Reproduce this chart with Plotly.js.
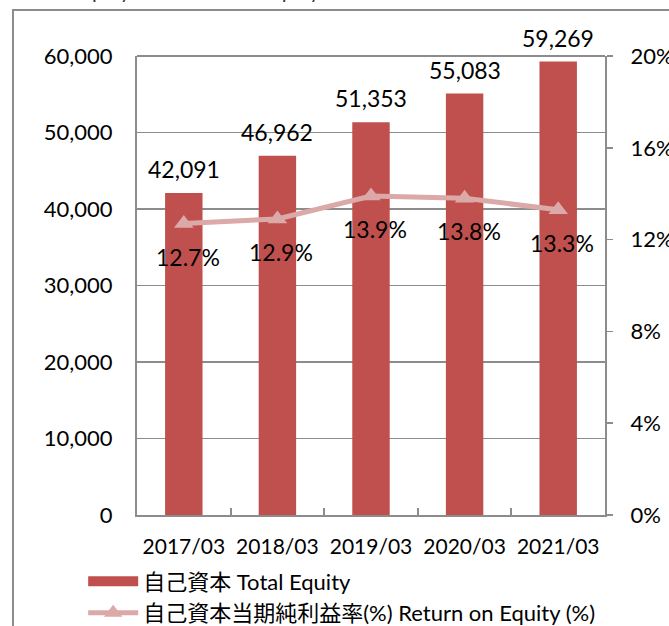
<!DOCTYPE html>
<html>
<head>
<meta charset="utf-8">
<script src="https://cdn.plot.ly/plotly-3.0.1.min.js"></script>
<style>html,body{margin:0;padding:0;background:#fff;}#chart{width:669px;height:626px;}</style>
</head>
<body>
<div id="chart"></div>
<script>
const categories = ["2017/03", "2018/03", "2019/03", "2020/03", "2021/03"];
const totalEquity = [42091, 46962, 51353, 55083, 59269];
const roe = [0.127, 0.129, 0.139, 0.138, 0.133];
const equityName = "自己資本 Total Equity";
const roeName = "自己資本当期純利益率(%) Return on Equity (%)";
const chartTitle = "Total Equity and Return on Equity";

const FONT = "Lato, 'Noto Sans CJK JP', sans-serif";
const GREY = "#8c8c8c";
const BAR = "#C0504D";
const LINE = "#DBA9A8";

const traces = [
  {
    type: "bar", x: categories, y: totalEquity, name: equityName,
    marker: {color: BAR}, yaxis: "y", hoverinfo: "skip", showlegend: false
  },
  {
    // legend swatch for the bars (wide block like the reference)
    type: "scatter", mode: "lines", x: [null], y: [null], name: equityName,
    line: {color: BAR, width: 15}, yaxis: "y", hoverinfo: "skip", showlegend: true
  },
  {
    type: "scatter", mode: "lines+markers", x: categories, y: roe, name: roeName,
    yaxis: "y2", line: {color: LINE, width: 5},
    marker: {symbol: "triangle-up", size: 17, color: LINE}, hoverinfo: "skip"
  }
];

const annotations = [];
categories.forEach((c, i) => {
  annotations.push({
    x: c, y: totalEquity[i], xref: "x", yref: "y", showarrow: false,
    text: totalEquity[i].toLocaleString("en-US"), yanchor: "bottom", yshift: 8,
    font: {family: FONT, size: 23, color: "#000"}
  });
  annotations.push({
    x: c, y: roe[i], xref: "x", yref: "y2", showarrow: false,
    text: (roe[i] * 100).toFixed(1) + "%", yanchor: "middle", yshift: -33, xshift: 4,
    font: {family: FONT, size: 23, color: "#000"}
  });
});
annotations.push({
  x: -0.24, y: 1.112, xref: "paper", yref: "paper", showarrow: false,
  text: chartTitle, xanchor: "left", yanchor: "bottom",
  font: {family: FONT, size: 20, color: "#333"}
});

const layout = {
  width: 669, height: 626,
  margin: {l: 137, r: 64, t: 56, b: 111, autoexpand: false},
  paper_bgcolor: "#fff", plot_bgcolor: "#fff",
  font: {family: FONT, size: 20, color: "#000"},
  bargap: 0.6,
  showlegend: true,
  legend: {
    x: -0.115, y: -0.099, xanchor: "left", yanchor: "top",
    orientation: "v", font: {family: FONT, size: 22, color: "#000"},
    itemwidth: 50, tracegroupgap: 0, bgcolor: "rgba(0,0,0,0)"
  },
  xaxis: {
    type: "category", showline: true, linecolor: GREY, linewidth: 2,
    ticks: "inside", tickson: "boundaries", ticklen: 7, tickcolor: GREY, tickwidth: 2,
    tickfont: {family: FONT, size: 21, color: "#000"}, ticklabelstandoff: 12,
    showgrid: false, fixedrange: true
  },
  yaxis: {
    range: [0, 60000], dtick: 10000, tickformat: ",d",
    showline: true, linecolor: GREY, linewidth: 2,
    showgrid: true, gridcolor: GREY, gridwidth: 1.5,
    ticks: "", tickfont: {family: FONT, size: 22, color: "#000"},
    ticklabelstandoff: 18, zeroline: false
  },
  yaxis2: {
    overlaying: "y", side: "right", range: [0, 0.2], dtick: 0.04, tickformat: ".0%",
    showline: true, linecolor: GREY, linewidth: 2, showgrid: false, zeroline: false,
    ticks: "outside", ticklen: 6, tickcolor: GREY, tickwidth: 1.5,
    tickfont: {family: FONT, size: 22, color: "#000"}, ticklabelstandoff: 13
  },
  shapes: [
    {type: "line", xref: "paper", yref: "paper", x0: 0, x1: 1, y0: 1, y1: 1,
     line: {color: GREY, width: 2}},
    {type: "rect", xref: "paper", yref: "paper", x0: -0.265, x1: 1.2, y0: 1.1, y1: -0.3,
     line: {color: GREY, width: 2}, layer: "below"}
  ],
  annotations: annotations
};

Plotly.newPlot("chart", traces, layout, {displayModeBar: false, staticPlot: true});
</script>
</body>
</html>
